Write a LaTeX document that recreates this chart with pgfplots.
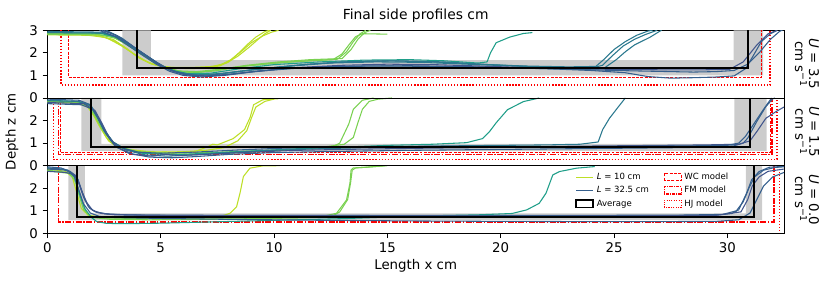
\documentclass[border=0pt]{standalone}
\usepackage{pgfplots}
\pgfplotsset{compat=1.18}
\usepackage{fontspec}
\setmainfont{DejaVu Sans}
\definecolor{vA}{RGB}{189,223,38}
\definecolor{vB}{RGB}{122,209,81}
\definecolor{vC}{RGB}{31,158,137}
\definecolor{vD}{RGB}{42,120,142}
\definecolor{vE}{RGB}{53,95,141}
\definecolor{vF}{RGB}{65,85,140}
\definecolor{mred}{RGB}{255,0,0}
\tikzset{
  dashWC/.style={draw=mred, line width=1.1pt, dash pattern=on 2.2pt off 1pt on 2.2pt off 1pt},
  dashFM/.style={draw=mred, line width=1.1pt, dash pattern=on 4.5pt off 1.2pt on 1pt off 1.2pt},
  dashHJ/.style={draw=mred, line width=1.1pt, dash pattern=on 1pt off 1.3pt on 1pt off 1.3pt},
}
\pgfplotsset{
  panel/.style={scale only axis, width=552.5pt, height=50.75pt,
    xmin=0, xmax=32.5, ymin=0, ymax=3,
    axis line style={line width=0.6pt},
    tick style={line width=0.6pt, black},
    tick align=outside, major tick length=3.5pt, tick pos=left,
    /pgf/number format/assume math mode=true,
    tick label style={font=\fontsize{10}{12}\selectfont},
    every axis plot/.append style={forget plot}},
  cv/.style={color=#1, line width=0.8pt, line join=round},
  avg/.style={color=black, line width=1.4pt},
  band/.style={fill=gray!40, draw=none},
}
\begin{document}
\begin{tikzpicture}
% ---------------- Panel 3 (U = 0.0) ----------------
\begin{axis}[panel, name=p3, at={(0pt,0pt)}, anchor=south west,
  xtick={0,5,10,15,20,25,30}, ytick={0,1,2},
  legend style={at={(0.93,0.955)}, anchor=north east, draw=none, fill=none,
    font=\fontsize{6.4}{7}\selectfont, legend columns=2,
    /tikz/every even column/.append style={column sep=9pt},
    row sep=-0.3pt, inner sep=1pt},
  legend cell align=left]
\addplot[band] coordinates {(0.93,3) (0.93,0.59) (31.53,0.59) (31.53,3) (30.82,3) (30.82,0.89) (1.66,0.89) (1.66,3)};
\addplot[dashFM] coordinates {(0.49,3) (0.49,0.5) (32.05,0.5) (32.05,3)};
\addplot[dashHJ] coordinates {(32.3,3) (32.3,0.03)};
% L10
\addplot[cv=vA] coordinates {(0,2.85)(0.8,2.75)(1.1,2.5)(1.3,1.8)(1.5,1.1)(1.8,0.8)(2.5,0.7)(4,0.68)(6,0.68)(7.5,0.7)(8.06,0.89)(8.35,1.18)(8.5,1.78)(8.65,2.52)(8.94,2.89)(9.5,2.99)(10.26,3.0)};
% L15
\addplot[cv=vB] coordinates {(0,2.8)(0.9,2.7)(1.2,2.4)(1.4,1.7)(1.6,1.05)(1.9,0.75)(2.6,0.68)(4,0.66)(6,0.67)(8,0.68)(10,0.7)(12,0.72)(12.76,0.89)(13.2,1.48)(13.35,2.22)(13.4,2.81)(13.5,2.9)(14.1,2.93)(14.9,3.0)};
\addplot[cv=vB] coordinates {(0,2.78)(1.0,2.65)(1.3,2.2)(1.5,1.5)(1.7,0.95)(2.0,0.7)(2.8,0.62)(4.5,0.6)(7,0.62)(9,0.65)(11,0.68)(12.5,0.72)(12.9,0.95)(13.25,1.5)(13.38,2.25)(13.45,2.8)(13.6,2.9)(14.3,2.95)(15.0,3.0)};
% L22
\addplot[cv=vC] coordinates {(0,2.9)(0.9,2.8)(1.2,2.5)(1.4,1.8)(1.65,1.1)(1.95,0.7)(2.18,0.52)(2.62,0.44)(3.5,0.43)(5,0.45)(7,0.5)(9,0.55)(11,0.6)(13,0.65)(15,0.72)(17,0.78)(19,0.82)(20.5,0.88)(21.15,1.04)(21.7,1.33)(22.0,1.78)(22.3,2.59)(22.6,2.74)(23.35,2.89)(24.15,2.96)};
% L32.5
\addplot[cv=vE] coordinates {(0,2.95)(0.6,2.9)(1.0,2.75)(1.3,2.52)(1.44,2.07)(1.59,1.63)(1.81,1.18)(2.1,0.96)(2.62,0.86)(3.5,0.82)(5,0.8)(8,0.79)(11,0.79)(14,0.79)(17,0.78)(20,0.77)(23,0.77)(26,0.78)(28,0.79)(29.5,0.8)(30.2,0.88)(30.5,1.04)(30.85,1.78)(31.07,2.37)(31.4,2.74)(31.85,2.93)(32.5,2.97)};
\addplot[cv=vE] coordinates {(0,2.9)(0.7,2.85)(1.1,2.65)(1.35,2.4)(1.5,1.95)(1.65,1.5)(1.88,1.1)(2.2,0.92)(2.8,0.84)(4,0.81)(7,0.8)(10,0.8)(13,0.8)(16,0.8)(19,0.8)(22,0.79)(25,0.8)(28,0.81)(29.8,0.84)(30.4,1.0)(30.7,1.4)(30.95,2.0)(31.2,2.5)(31.6,2.8)(32.1,2.92)(32.5,2.95)};
\addplot[cv=vF] coordinates {(0,2.75)(0.8,2.7)(1.2,2.6)(1.4,2.2)(1.55,1.8)(1.75,1.35)(2.0,1.02)(2.4,0.88)(3.0,0.82)(5,0.79)(8,0.78)(12,0.78)(16,0.77)(20,0.76)(24,0.77)(27,0.78)(29.5,0.8)(30.6,0.95)(30.9,1.5)(31.1,2.1)(31.4,2.5)(31.8,2.75)(32.5,2.85)};
\addplot[cv=vE] coordinates {(0,2.85)(0.9,2.8)(1.2,2.5)(1.4,1.9)(1.6,1.3)(1.9,0.9)(2.3,0.75)(3,0.7)(5,0.66)(8,0.62)(12,0.58)(16,0.55)(20,0.53)(24,0.52)(27,0.52)(29.5,0.53)(30.5,0.6)(31.0,0.9)(31.3,1.5)(31.6,2.1)(32.0,2.5)(32.5,2.7)};
\addplot[avg] coordinates {(1.29,3) (1.29,0.74) (31.19,0.74) (31.19,3)};
% legend
\addlegendimage{legend image code/.code={\draw[draw=vA, line width=0.9pt] (0cm,0cm) -- (0.45cm,0cm);}}
\addlegendimage{legend image code/.code={\draw[draw=mred, line width=0.9pt, dash pattern=on 2.2pt off 1pt on 2.2pt off 1pt] (0cm,-0.09cm) rectangle (0.45cm,0.1cm);}}
\addlegendimage{legend image code/.code={\draw[draw=vE, line width=0.9pt] (0cm,0cm) -- (0.45cm,0cm);}}
\addlegendimage{legend image code/.code={\draw[draw=mred, line width=0.9pt, dash pattern=on 2.4pt off 0.8pt on 0.7pt off 0.8pt] (0cm,-0.09cm) rectangle (0.45cm,0.1cm);}}
\addlegendimage{legend image code/.code={\draw[draw=black, line width=1.3pt] (0cm,-0.09cm) rectangle (0.45cm,0.1cm);}}
\addlegendimage{legend image code/.code={\draw[draw=mred, line width=0.9pt, dash pattern=on 0.8pt off 1pt on 0.8pt off 1pt] (0cm,-0.09cm) rectangle (0.45cm,0.1cm);}}
\legend{\textit{L} = 10 cm, WC model, \textit{L} = 32.5 cm, FM model, Average, HJ model}
\end{axis}
% ---------------- Panel 2 (U = 1.5) ----------------
\begin{axis}[panel, name=p2, at={(0pt,50.75pt)}, anchor=south west,
  xtick=\empty, ytick={0,1,2}]
\addplot[band] coordinates {(1.5,3) (1.5,0.65) (31.73,0.65) (31.73,3) (30.31,3) (30.31,0.97) (2.38,0.97) (2.38,3)};
\addplot[dashFM] coordinates {(0.5,3) (0.5,0.5) (31.97,0.5) (31.97,3)};
\addplot[dashWC] coordinates {(0.57,3) (0.57,0.58) (31.9,0.58) (31.9,3)};
\addplot[dashHJ] coordinates {(0.27,3) (0.27,0.28) (32.2,0.28) (32.2,3)};
% L10
\addplot[cv=vA] coordinates {(0,2.85)(1.2,2.82)(1.7,2.7)(2.0,2.3)(2.3,1.75)(2.6,1.25)(3.0,0.9)(3.6,0.72)(4.5,0.62)(5.5,0.6)(6.5,0.62)(7.1,0.85)(7.3,0.95)(7.5,0.92)(8.2,1.2)(8.7,1.6)(8.95,2.15)(9.1,2.7)(9.5,2.92)(10.2,2.97)};
\addplot[cv=vA] coordinates {(0,2.8)(1.3,2.78)(1.8,2.6)(2.1,2.15)(2.4,1.6)(2.7,1.1)(3.1,0.8)(3.8,0.65)(4.8,0.6)(6.0,0.62)(7.0,0.68)(7.8,0.8)(8.4,1.1)(8.8,1.55)(9.0,2.1)(9.2,2.6)(9.6,2.85)(10.0,2.95)};
% L15
\addplot[cv=vB] coordinates {(0,2.85)(1.3,2.82)(1.8,2.65)(2.1,2.2)(2.4,1.65)(2.8,1.1)(3.3,0.8)(4.0,0.62)(5.5,0.55)(7,0.58)(9,0.65)(11,0.72)(12.6,0.85)(12.9,1.0)(13.3,1.85)(13.5,2.5)(13.9,2.9)(14.4,3.0)};
\addplot[cv=vB] coordinates {(0,2.82)(1.4,2.8)(1.9,2.6)(2.2,2.1)(2.5,1.5)(2.9,1.0)(3.5,0.7)(4.3,0.55)(6,0.5)(8,0.55)(10,0.65)(12,0.8)(13.1,0.95)(13.5,1.25)(13.7,1.9)(13.9,2.5)(14.2,2.85)(14.6,2.95)(15.2,3.0)};
% L22
\addplot[cv=vC] coordinates {(0,2.9)(1.3,2.85)(1.9,2.7)(2.2,2.2)(2.5,1.6)(2.9,1.05)(3.4,0.75)(4.2,0.55)(5.5,0.48)(7,0.55)(9,0.65)(11,0.75)(13,0.82)(15,0.9)(17,0.95)(18.5,1.02)(19.2,1.2)(19.5,1.5)(19.8,1.9)(20.3,2.48)(21.0,2.84)(21.7,3.0)};
% L27
\addplot[cv=vD] coordinates {(0,2.88)(1.4,2.85)(1.9,2.65)(2.2,2.15)(2.5,1.55)(2.9,1.0)(3.5,0.68)(4.3,0.48)(5.3,0.42)(6.5,0.48)(8,0.58)(10,0.68)(12,0.75)(14,0.8)(16,0.85)(18,0.88)(20,0.9)(22,0.92)(23.5,0.95)(24.3,1.05)(24.5,1.6)(24.8,2.1)(25.2,2.62)(25.5,3.0)};
% L32.5
\addplot[cv=vE] coordinates {(0,2.75)(1.5,2.7)(2.0,2.5)(2.3,2.0)(2.6,1.4)(3.0,0.85)(3.6,0.55)(4.5,0.38)(5.5,0.35)(6.5,0.4)(8,0.5)(10,0.58)(12,0.62)(14,0.65)(16,0.68)(18,0.7)(20,0.72)(22,0.74)(24,0.76)(26,0.78)(28,0.8)(29.5,0.83)(30.3,0.88)(30.7,1.0)(30.9,1.22)(31.3,1.96)(31.7,2.62)(32.0,2.96)(32.1,3.0)};
\addplot[cv=vF] coordinates {(0,2.8)(1.6,2.75)(2.1,2.45)(2.4,1.9)(2.7,1.3)(3.1,0.8)(3.8,0.5)(4.6,0.42)(5.2,0.5)(5.8,0.45)(7,0.5)(9,0.6)(11,0.68)(13,0.72)(15,0.75)(17,0.78)(19,0.8)(21,0.83)(23,0.86)(25,0.88)(27,0.9)(29,0.92)(30.5,0.95)(31.0,1.1)(31.3,1.51)(31.7,2.1)(32.15,2.4)(32.5,2.6)};
\addplot[cv=vE] coordinates {(0,2.95)(1.4,2.9)(1.9,2.7)(2.2,2.2)(2.5,1.6)(2.9,1.05)(3.4,0.75)(4.0,0.6)(5,0.55)(6.5,0.6)(8.5,0.7)(10.5,0.78)(12.5,0.82)(14.5,0.85)(16.5,0.86)(18.5,0.86)(20.5,0.85)(22.5,0.84)(24.5,0.85)(26.5,0.86)(28.5,0.88)(30.0,0.9)(30.5,1.0)(30.8,1.3)(31.2,1.9)(31.6,2.5)(31.95,3.0)};
\addplot[avg] coordinates {(1.94,3) (1.94,0.81) (31.01,0.81) (31.01,3)};
\end{axis}
% ---------------- Panel 1 (U = 3.5) ----------------
\begin{axis}[panel, name=p1, at={(0pt,101.5pt)}, anchor=south west,
  xtick=\empty, ytick={0,1,2,3}]
\addplot[band] coordinates {(3.31,3) (3.31,1.0) (31.58,1.0) (31.58,3) (30.28,3) (30.28,1.68) (4.57,1.68) (4.57,3)};
\addplot[dashHJ] coordinates {(0.6,3) (0.6,0.58) (31.88,0.58) (31.88,3)};
\addplot[dashWC] coordinates {(0.94,3) (0.94,0.92) (31.51,0.92) (31.51,3)};
% L10
\addplot[cv=vA] coordinates {(0,2.85)(1.5,2.83)(2.3,2.78)(3.0,2.5)(3.6,2.1)(4.2,1.7)(4.8,1.45)(5.5,1.33)(6.3,1.3)(7.0,1.33)(7.6,1.42)(8.0,1.6)(8.4,1.95)(8.8,2.35)(9.2,2.7)(9.6,2.95)(9.8,3.0)};
\addplot[cv=vA] coordinates {(0,2.8)(1.8,2.78)(2.6,2.68)(3.3,2.3)(3.9,1.9)(4.5,1.55)(5.2,1.38)(6.0,1.32)(6.9,1.35)(7.6,1.45)(8.1,1.7)(8.6,2.1)(9.0,2.45)(9.5,2.75)(9.9,2.92)(10.2,3.0)};
\addplot[cv=vA] coordinates {(0,2.83)(2.0,2.8)(2.9,2.6)(3.5,2.2)(4.0,1.8)(4.6,1.5)(5.4,1.36)(6.5,1.36)(7.3,1.4)(7.9,1.55)(8.4,1.85)(8.9,2.25)(9.3,2.6)(9.6,2.85)(9.85,3.0)};
% L15
\addplot[cv=vB] coordinates {(0,2.85)(2.0,2.84)(2.8,2.75)(3.5,2.4)(4.1,2.0)(4.7,1.6)(5.3,1.3)(6.0,1.15)(6.8,1.15)(7.8,1.3)(9.0,1.45)(10.5,1.58)(11.8,1.66)(12.6,1.7)(13.0,1.95)(13.3,2.35)(13.6,2.72)(13.9,2.85)(15.0,2.83)};
\addplot[cv=vB] coordinates {(0,2.82)(2.3,2.8)(3.0,2.65)(3.7,2.25)(4.3,1.85)(4.9,1.45)(5.6,1.22)(6.4,1.12)(7.4,1.2)(8.6,1.4)(10.0,1.55)(11.5,1.65)(12.8,1.72)(13.2,2.05)(13.5,2.5)(13.8,2.85)(14.05,3.0)};
\addplot[cv=vB] coordinates {(0,2.87)(2.5,2.85)(3.2,2.6)(3.9,2.1)(4.5,1.7)(5.1,1.4)(5.8,1.2)(6.6,1.17)(7.6,1.27)(8.8,1.45)(10.2,1.6)(11.6,1.7)(13.0,1.75)(13.4,2.15)(13.7,2.6)(14.0,2.9)(14.25,3.0)};
% L22
\addplot[cv=vC] coordinates {(0,2.9)(2.3,2.88)(3.0,2.7)(3.6,2.35)(4.2,1.95)(4.8,1.55)(5.4,1.25)(6.2,1.08)(7.2,1.1)(8.5,1.3)(10,1.48)(12,1.6)(14,1.68)(16,1.7)(17.5,1.65)(19.0,1.55)(19.4,1.6)(19.55,2.0)(19.8,2.45)(20.4,2.7)(21.0,2.86)(21.4,2.9)};
% L27
\addplot[cv=vD] coordinates {(0,2.9)(2.5,2.88)(3.2,2.65)(3.8,2.25)(4.4,1.85)(5.0,1.45)(5.7,1.15)(6.5,1.0)(7.5,1.05)(9,1.25)(11,1.45)(13,1.6)(15,1.65)(17,1.6)(19,1.5)(21,1.42)(23,1.38)(24.2,1.4)(24.6,1.75)(25.0,2.15)(25.5,2.5)(26.0,2.78)(26.5,2.97)(26.7,3.0)};
\addplot[cv=vD] coordinates {(0,2.95)(2.4,2.92)(3.1,2.7)(3.7,2.3)(4.3,1.9)(4.9,1.5)(5.6,1.18)(6.4,1.02)(7.4,1.05)(8.8,1.22)(10.5,1.4)(12.5,1.55)(14.5,1.6)(16.5,1.58)(18.5,1.5)(20.5,1.42)(22.5,1.35)(24.0,1.33)(24.5,1.45)(24.9,1.85)(25.4,2.3)(25.9,2.6)(26.4,2.82)(26.9,3.0)};
\addplot[cv=vD] coordinates {(2.6,3.0)(3.3,2.65)(3.9,2.2)(4.5,1.8)(5.1,1.4)(5.8,1.12)(6.7,1.02)(7.8,1.1)(9.5,1.3)(11.5,1.5)(13.5,1.62)(15.5,1.65)(17.5,1.6)(19.5,1.48)(21.5,1.38)(23.3,1.3)(24.6,1.35)(25.1,1.7)(25.5,2.05)(25.9,2.35)(26.3,2.55)(26.6,2.7)(27.0,2.95)(27.1,3.0)};
% L32.5
\addplot[cv=vE] coordinates {(2.3,3.0)(3.0,2.72)(3.6,2.3)(4.2,1.9)(4.8,1.5)(5.4,1.18)(6.0,1.0)(6.8,0.93)(7.8,1.0)(9.0,1.15)(10.5,1.3)(12,1.38)(14,1.42)(16,1.43)(18,1.4)(20,1.36)(22,1.3)(24,1.22)(25.5,1.12)(26.5,0.95)(27.5,0.88)(28.5,0.9)(29.5,0.93)(30.3,0.98)(30.8,1.3)(31.1,1.8)(31.5,2.5)(31.9,2.85)(32.2,3.0)};
\addplot[cv=vF] coordinates {(2.5,3.0)(3.1,2.75)(3.7,2.35)(4.3,1.92)(4.9,1.5)(5.5,1.2)(6.2,1.02)(7.0,0.98)(8.0,1.05)(9.5,1.22)(11,1.35)(13,1.45)(15,1.5)(17,1.48)(19,1.42)(21,1.35)(23,1.3)(25,1.27)(27,1.25)(29,1.25)(30.1,1.27)(30.7,1.6)(31.3,2.35)(31.8,2.85)(32.2,3.0)};
\addplot[cv=vE] coordinates {(2.4,3.0)(3.0,2.8)(3.6,2.4)(4.2,2.0)(4.8,1.6)(5.4,1.25)(6.0,1.05)(6.8,0.97)(7.8,1.02)(9.2,1.18)(11,1.32)(13,1.4)(15,1.42)(17,1.4)(19,1.36)(21,1.32)(23,1.28)(25,1.22)(27,1.18)(28.5,1.15)(29.5,1.17)(30.3,1.22)(30.9,1.5)(31.4,2.0)(31.9,2.6)(32.3,2.95)(32.5,3.05)};
\addplot[avg] coordinates {(3.94,3) (3.94,1.34) (30.93,1.34) (30.93,3)};
\end{axis}
% ---------------- labels ----------------
\path (p1.north) ++(0,8pt) node[anchor=base, font=\fontsize{10.4}{12}\selectfont] {Final side profiles cm};
\path (p2.west) ++(-26.5pt,0) node[rotate=90, font=\fontsize{10}{12}\selectfont] {Depth z cm};
\path (p3.south) ++(0,-24.5pt) node[font=\fontsize{10}{12}\selectfont] {Length x cm};
\path (p1.east) ++(17.3pt,0) node[rotate=-90, align=center, font=\fontsize{10}{10.5}\selectfont] {\textit{U} = 3.5\\cm s\textsuperscript{−1}};
\path (p2.east) ++(17.3pt,0) node[rotate=-90, align=center, font=\fontsize{10}{10.5}\selectfont] {\textit{U} = 1.5\\cm s\textsuperscript{−1}};
\path (p3.east) ++(17.3pt,0) node[rotate=-90, align=center, font=\fontsize{10}{10.5}\selectfont] {\textit{U} = 0.0\\cm s\textsuperscript{−1}};
\pgfresetboundingbox
\path[use as bounding box] (-35.5pt,-39.5pt) rectangle (587pt,175pt);
\end{tikzpicture}
\end{document}
